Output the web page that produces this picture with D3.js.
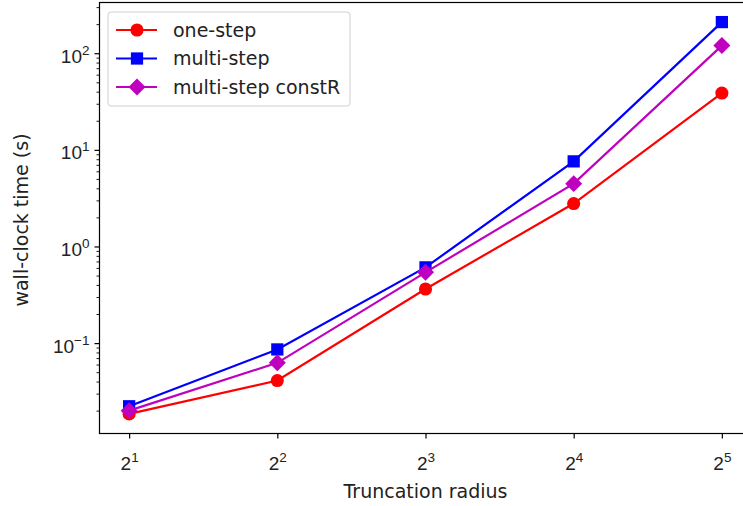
<!DOCTYPE html>
<html>
<head>
<meta charset="utf-8">
<script src="https://cdn.jsdelivr.net/npm/d3@7/dist/d3.min.js"></script>
<style>
  body { margin: 0; background: #fff; }
  svg { display: block; font-family: "DejaVu Sans", sans-serif; }
</style>
</head>
<body>
<div id="chart"></div>
<script>
// truncation radius (powers of two)
var radii = [2, 4, 8, 16, 32];
var xTickExp = [1, 2, 3, 4, 5];
var yTickExp = [-1, 0, 1, 2];

// wall-clock times in seconds
var oneStep = [0.0185, 0.041, 0.363, 2.78, 38.7];
var multiStep = [0.0222, 0.086, 0.608, 7.6, 210];
var multiStepConstR = [0.0200, 0.0625, 0.54, 4.47, 120];

var seriesNames = ["one-step", "multi-step", "multi-step constR"];
var seriesColors = ["#ff0000", "#0000ff", "#bf00bf"];
var seriesMarkers = ["circle", "square", "diamond"];

var W = 743, H = 506;
var margin = { top: 2.5, left: 99.5, bottom: 72.5, right: -8.5 };
var fs = 19, fsSup = 13.5;

var svg = d3.select("#chart").append("svg")
  .attr("width", W)
  .attr("height", H);

var all = [oneStep, multiStep, multiStepConstR];
var series = all.map(function(vals, i) {
  return {
    name: seriesNames[i], color: seriesColors[i], marker: seriesMarkers[i],
    values: vals.map(function(v, j) { return { r: radii[j], t: v }; })
  };
});

// matplotlib style 5% margins in log space
var lx = d3.extent(radii).map(Math.log2);
var px = (lx[1] - lx[0]) * 0.05;
var flat = d3.merge(all);
var ly = d3.extent(flat).map(Math.log10);
var py = (ly[1] - ly[0]) * 0.05;

var x = d3.scaleLog().base(2)
  .domain([Math.pow(2, lx[0] - px), Math.pow(2, lx[1] + px)])
  .range([margin.left, W - margin.right]);
var y = d3.scaleLog()
  .domain([Math.pow(10, ly[0] - py), Math.pow(10, ly[1] + py)])
  .range([H - margin.bottom, margin.top]);

var x0 = margin.left, x1 = W - margin.right;
var y0 = H - margin.bottom, y1 = margin.top;

// x axis
var xAxis = svg.append("g")
  .attr("transform", "translate(0," + y0 + ")")
  .call(d3.axisBottom(x).tickValues(xTickExp.map(function(e) { return Math.pow(2, e); }))
    .tickSize(5).tickFormat(""));
xAxis.select(".domain").remove();
xAxis.selectAll("line").attr("stroke", "#000").attr("stroke-width", 1.2);
xAxis.selectAll(".tick").each(function(d, i) {
  var t = d3.select(this).select("text")
    .attr("y", 36).attr("dy", 0).attr("fill", "#222").attr("font-size", fs).attr("text-anchor", "middle");
  t.append("tspan").text("2");
  t.append("tspan").attr("dy", -8).attr("font-size", fsSup).text(xTickExp[i]);
});

// y axis minor ticks
var minor = [];
for (var e = -3; e <= 3; e++) {
  for (var k = 2; k <= 9; k++) {
    var v = k * Math.pow(10, e);
    if (v >= y.domain()[0] && v <= y.domain()[1]) minor.push(v);
  }
}
var yMinor = svg.append("g")
  .attr("transform", "translate(" + x0 + ",0)")
  .call(d3.axisLeft(y).tickValues(minor).tickSize(3).tickFormat(""));
yMinor.select(".domain").remove();
yMinor.selectAll("line").attr("stroke", "#000").attr("stroke-width", 0.9);

var yAxis = svg.append("g")
  .attr("transform", "translate(" + x0 + ",0)")
  .call(d3.axisLeft(y).tickValues(yTickExp.map(function(e) { return Math.pow(10, e); }))
    .tickSize(5).tickFormat(""));
yAxis.select(".domain").remove();
yAxis.selectAll("line").attr("stroke", "#000").attr("stroke-width", 1.2);
yAxis.selectAll(".tick").each(function(d, i) {
  var t = d3.select(this).select("text")
    .attr("x", -10).attr("dy", 0).attr("y", 9).attr("fill", "#222")
    .attr("font-size", fs).attr("text-anchor", "end");
  t.append("tspan").text("10");
  t.append("tspan").attr("dy", -8).attr("font-size", fsSup)
    .text(yTickExp[i] < 0 ? "\u2212" + Math.abs(yTickExp[i]) : yTickExp[i]);
});

// lines + markers
var line = d3.line()
  .x(function(d) { return x(d.r); })
  .y(function(d) { return y(d.t); });

var symbols = { circle: d3.symbolCircle, square: d3.symbolSquare };
var symSize = { circle: 135, square: 150 };

function drawMarker(g, m, color) {
  if (m === "diamond") {
    g.append("rect").attr("x", -6).attr("y", -6).attr("width", 12).attr("height", 12)
      .attr("transform", "rotate(45)").attr("fill", color);
  } else {
    g.append("path").attr("d", d3.symbol().type(symbols[m]).size(symSize[m])()).attr("fill", color);
  }
}

var plot = svg.append("g");
series.forEach(function(s) {
  plot.append("path").datum(s.values)
    .attr("fill", "none").attr("stroke", s.color).attr("stroke-width", 2.2)
    .attr("d", line);
  s.values.forEach(function(d) {
    var g = plot.append("g").attr("transform", "translate(" + x(d.r) + "," + y(d.t) + ")");
    drawMarker(g, s.marker, s.color);
  });
});

// frame
svg.append("rect")
  .attr("x", x0).attr("y", y1).attr("width", x1 - x0).attr("height", y0 - y1)
  .attr("fill", "none").attr("stroke", "#000").attr("stroke-width", 1.2);

// legend
var leg = svg.append("g").attr("transform", "translate(108,12)");
leg.append("rect").attr("width", 242).attr("height", 94).attr("rx", 3)
  .attr("fill", "#fff").attr("fill-opacity", 0.8).attr("stroke", "#d0d0d0");
series.forEach(function(s, i) {
  var gy = 18 + i * 28.5;
  leg.append("line").attr("x1", 8).attr("x2", 49).attr("y1", gy).attr("y2", gy)
    .attr("stroke", s.color).attr("stroke-width", 2.2);
  var g = leg.append("g").attr("transform", "translate(29," + gy + ")");
  drawMarker(g, s.marker, s.color);
  leg.append("text").attr("x", 65).attr("y", gy).attr("dy", "0.35em")
    .attr("font-size", fs).attr("fill", "#222").text(s.name);
});

// axis labels
svg.append("text")
  .attr("x", (x0 + x1) / 2).attr("y", 498)
  .attr("text-anchor", "middle").attr("font-size", fs).attr("fill", "#222")
  .text("Truncation radius");
svg.append("text")
  .attr("transform", "translate(28,220) rotate(-90)")
  .attr("text-anchor", "middle").attr("font-size", fs).attr("fill", "#222")
  .text("wall-clock time (s)");
</script>
</body>
</html>
